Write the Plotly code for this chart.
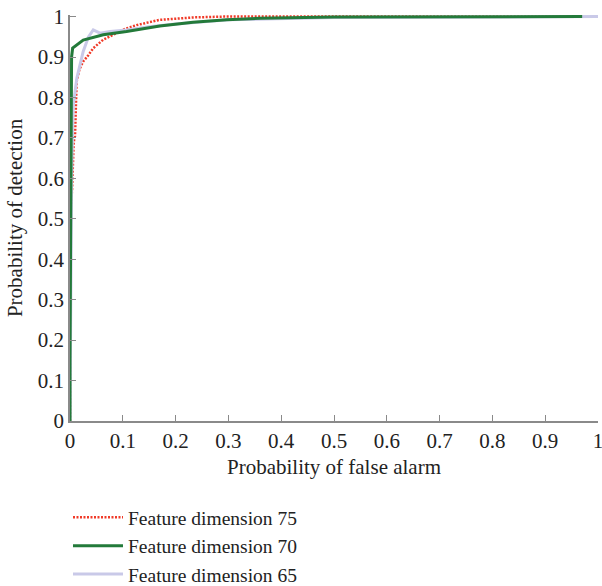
import plotly.graph_objects as go

# Feature dimension 75 (red dotted)
fd75_x = [0.0, 0.0, 0.004, 0.007, 0.0095, 0.011, 0.0126, 0.018, 0.025, 0.035, 0.044, 0.063, 0.088, 0.105, 0.126, 0.17, 0.233, 0.29, 0.5, 0.97]
fd75_y = [0.0, 0.50, 0.574, 0.69, 0.705, 0.78, 0.84, 0.87, 0.889, 0.905, 0.922, 0.943, 0.959, 0.97, 0.979, 0.992, 0.998, 1.0, 1.0, 1.0]

# Feature dimension 70 (green)
fd70_x = [0.0, 0.0, 0.003, 0.005, 0.025, 0.063, 0.107, 0.17, 0.233, 0.297, 0.36, 0.5, 0.97]
fd70_y = [0.0, 0.15, 0.90, 0.922, 0.942, 0.955, 0.963, 0.977, 0.986, 0.992, 0.996, 0.999, 1.0]

# Feature dimension 65 (lavender)
fd65_x = [0.0, 0.003, 0.006, 0.013, 0.025, 0.035, 0.044, 0.057, 0.076, 0.107, 0.15, 0.2, 0.3, 0.5, 1.0]
fd65_y = [0.0, 0.60, 0.78, 0.848, 0.914, 0.95, 0.967, 0.959, 0.963, 0.967, 0.975, 0.982, 0.992, 0.998, 1.0]

tick_vals = [0, 0.1, 0.2, 0.3, 0.4, 0.5, 0.6, 0.7, 0.8, 0.9, 1]
tick_text = ["0", "0.1", "0.2", "0.3", "0.4", "0.5", "0.6", "0.7", "0.8", "0.9", "1"]

FONT = "Liberation Serif"
FS = 21

fig = go.Figure()
fig.add_trace(go.Scatter(x=fd75_x, y=fd75_y, mode="lines", name="Feature dimension 75",
                         line=dict(color="#f03a28", width=2.5, dash="2px,1.5px"), legendrank=1))
fig.add_trace(go.Scatter(x=fd65_x, y=fd65_y, mode="lines", name="Feature dimension 65",
                         line=dict(color="#c9c9e8", width=3), legendrank=3))
fig.add_trace(go.Scatter(x=fd70_x, y=fd70_y, mode="lines", name="Feature dimension 70",
                         line=dict(color="#237a3a", width=3), legendrank=2))

axis_common = dict(
    showgrid=False, zeroline=False, showline=True, linecolor="#8a8a8a", linewidth=1.5,
    ticks="inside", ticklen=6, tickcolor="#8a8a8a", tickwidth=1,
    tickvals=tick_vals, ticktext=tick_text,
    tickfont=dict(family=FONT, size=FS, color="#222"),
    mirror=False, automargin=False, ticklabeloverflow="allow",
)

fig.update_layout(
    width=602, height=586,
    margin=dict(l=70, r=4, t=15, b=165, autoexpand=False),
    plot_bgcolor="white", paper_bgcolor="white",
    font=dict(family=FONT, size=FS, color="#222"),
    xaxis=dict(range=[0, 1], title=dict(text="Probability of false alarm", font=dict(family=FONT, size=FS), standoff=7), **axis_common),
    yaxis=dict(range=[0, 1.004], **axis_common),
    legend=dict(orientation="v", x=-0.0038, xanchor="left", y=-0.19, yanchor="top",
                font=dict(family=FONT, size=19.5, color="#222"), tracegroupgap=0,
                itemwidth=50, bgcolor="rgba(0,0,0,0)"),
    showlegend=True,
    annotations=[dict(text="Probability of detection", xref="paper", yref="paper",
                      x=-0.104, y=0.5, xanchor="center", yanchor="middle",
                      textangle=-90, showarrow=False,
                      font=dict(family=FONT, size=FS, color="#222"))],
)

fig.write_html("out.html", config={"displayModeBar": False},
               post_script="document.body.style.margin='0';document.body.style.overflow='hidden';")
